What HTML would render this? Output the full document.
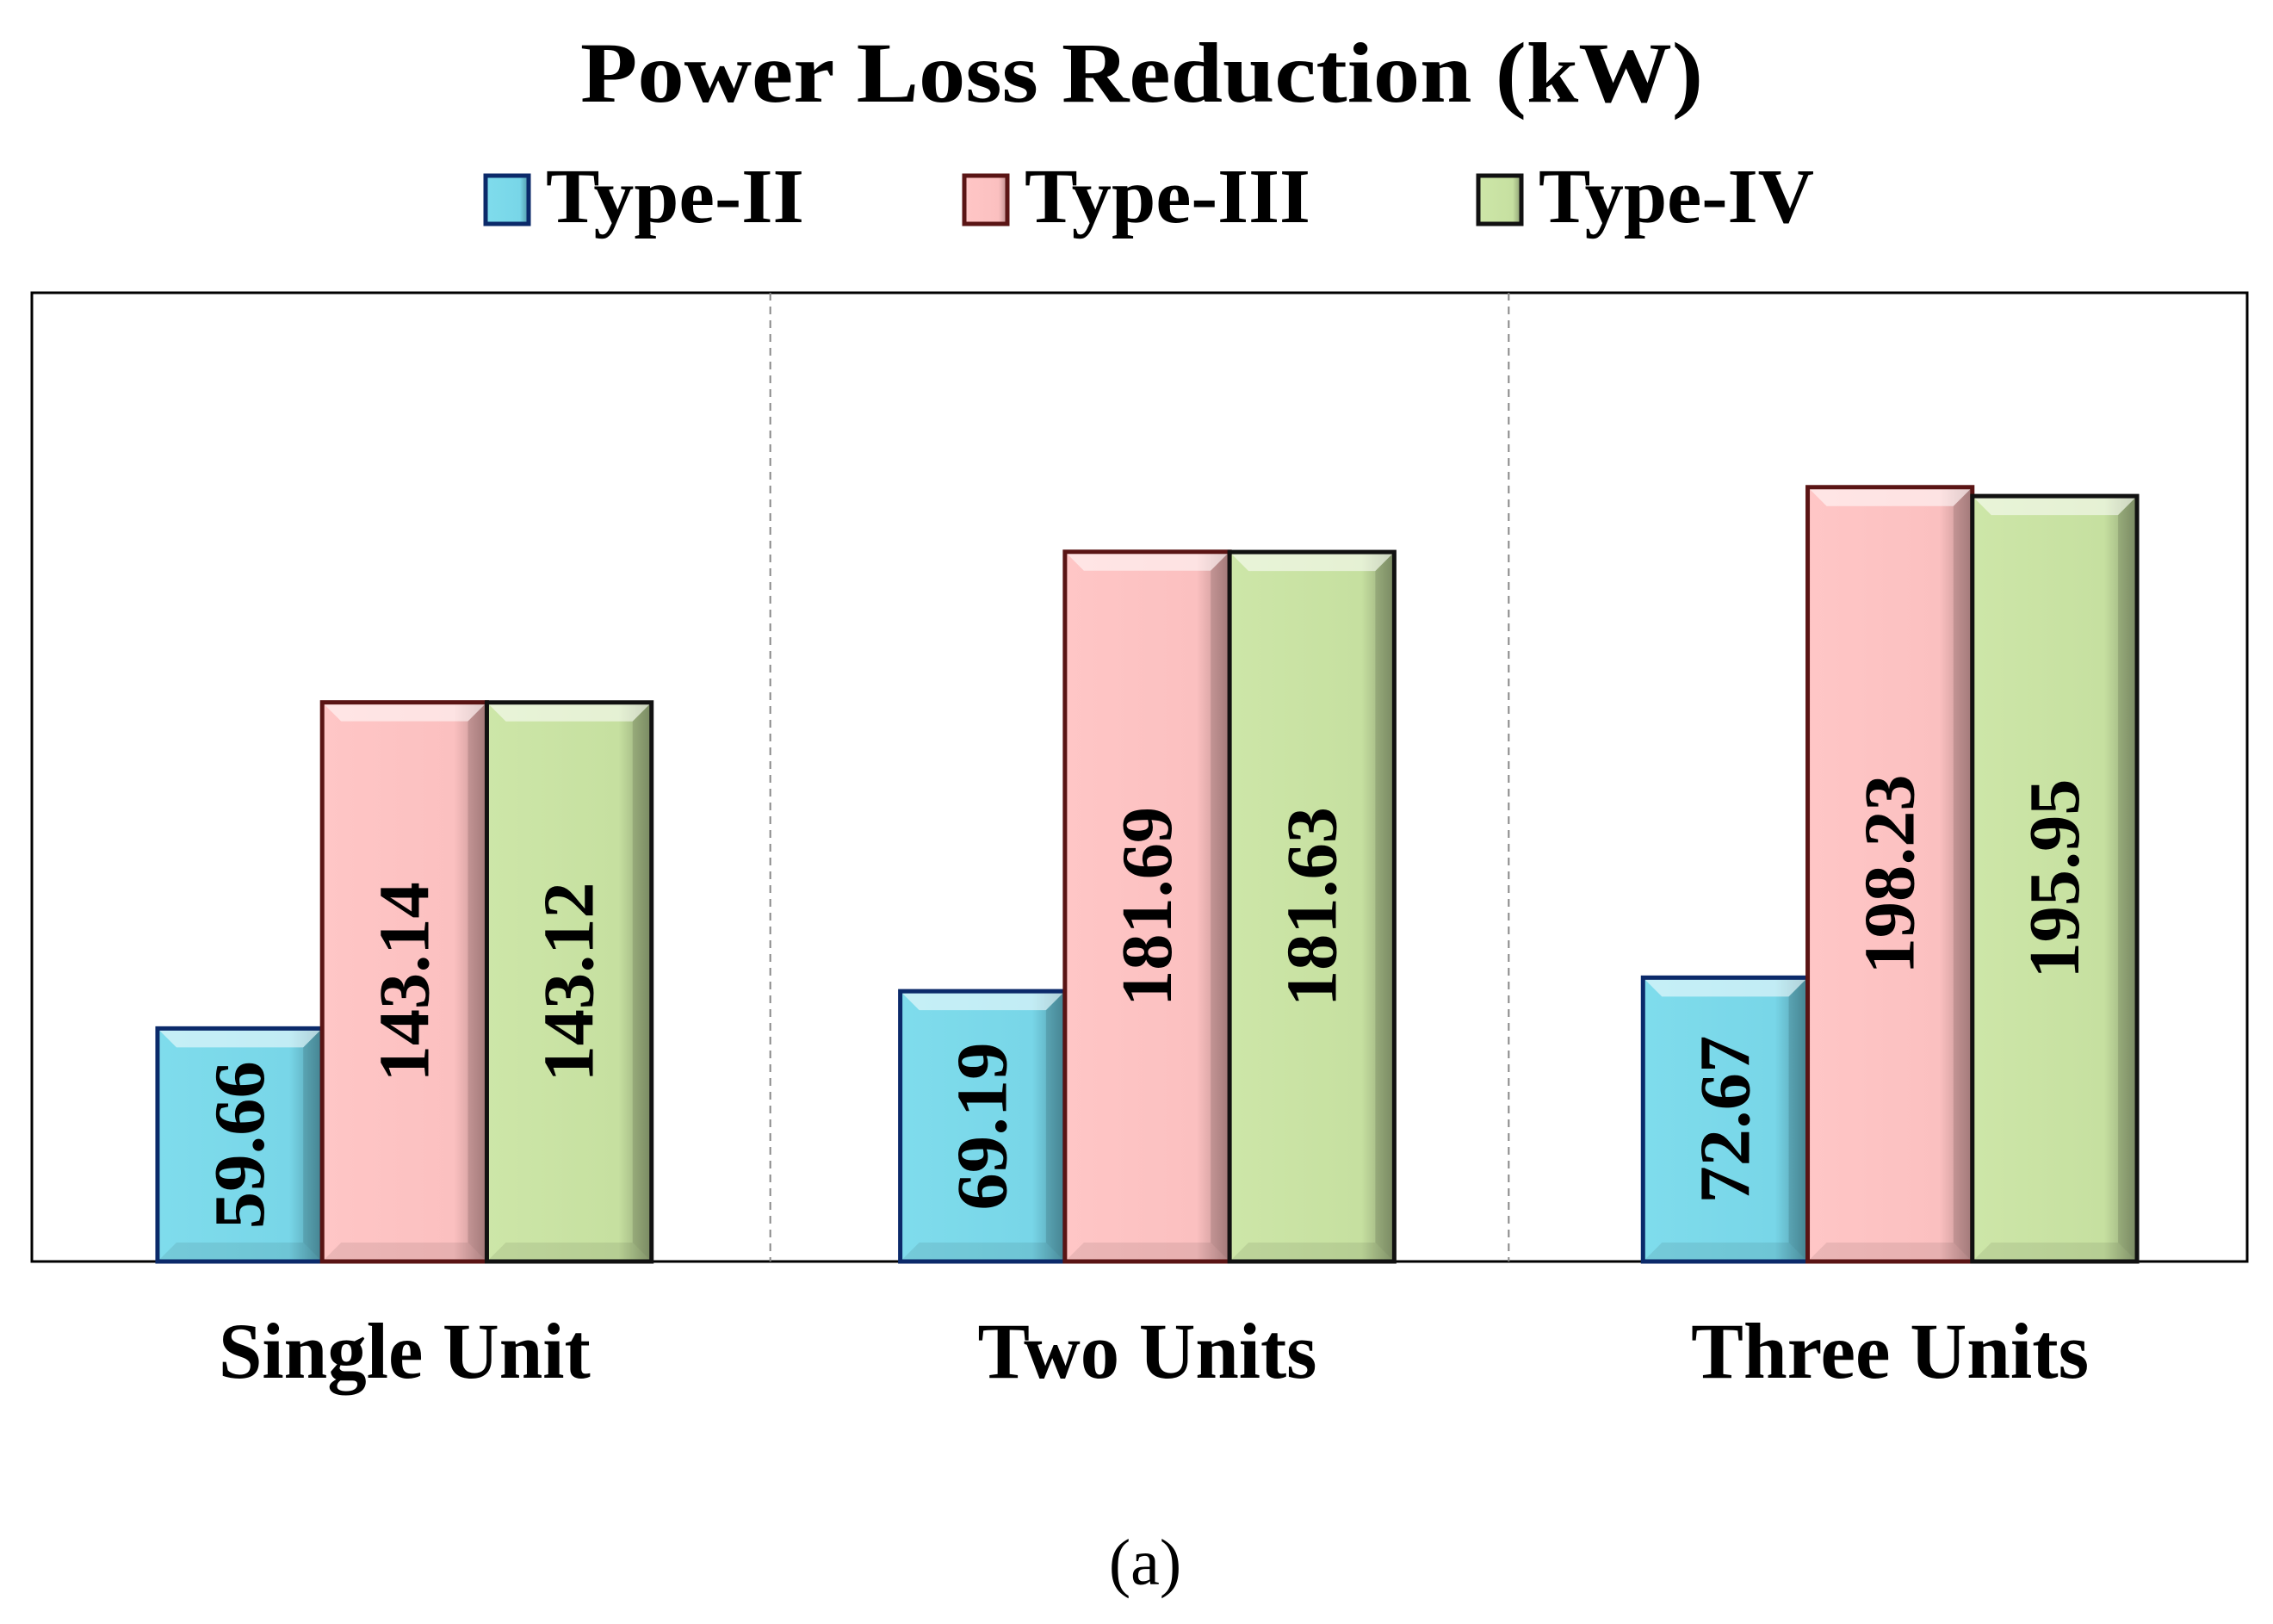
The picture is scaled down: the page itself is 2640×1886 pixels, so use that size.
<!DOCTYPE html>
<html><head><meta charset="utf-8"><style>
html,body{margin:0;padding:0;background:#fff;}
svg{display:block;}
text{font-family:"Liberation Serif",serif;font-weight:bold;fill:#000;}
</style></head><body>
<svg id="chart" width="2640" height="1886" viewBox="0 0 2640 1886">
<defs>
<linearGradient id="gb" x1="0" y1="0" x2="1" y2="0"><stop offset="0" stop-color="#7fdcec"/><stop offset="0.8" stop-color="#78d6e8"/><stop offset="1" stop-color="#4f96a6"/></linearGradient>
<linearGradient id="gp" x1="0" y1="0" x2="1" y2="0"><stop offset="0" stop-color="#ffc6c6"/><stop offset="0.8" stop-color="#fbc0c0"/><stop offset="1" stop-color="#b88a8a"/></linearGradient>
<linearGradient id="gg" x1="0" y1="0" x2="1" y2="0"><stop offset="0" stop-color="#cde6a8"/><stop offset="0.8" stop-color="#c6e0a0"/><stop offset="1" stop-color="#8a9c70"/></linearGradient>
</defs>
<text x="1326" y="118" font-size="100" text-anchor="middle" textLength="1304" lengthAdjust="spacingAndGlyphs">Power Loss Reduction (kW)</text>
<g id="legend"></g>
<rect x="37" y="340" width="2573" height="1125" fill="none" stroke="#000" stroke-width="3"/>
<g id="grid"></g>
<g id="bars"></g>
<g id="xlabels"></g>
<text x="1330" y="1840" font-size="76" style="font-weight:normal" text-anchor="middle">(a)</text>
</svg>
<script>
const categories = ["Single Unit", "Two Units", "Three Units"];
const seriesNames = ["Type-II", "Type-III", "Type-IV"];
const typeII = [59.66, 69.19, 72.67];
const typeIII = [143.14, 181.69, 198.23];
const typeIV = [143.12, 181.63, 195.95];

const NS = "http://www.w3.org/2000/svg";
const plotL = 37, plotR = 2610, plotT = 340, plotB = 1465, yMax = 248;
const catW = (plotR - plotL) / categories.length;
const barW = catW * 0.223;
const fills = ["url(#gb)", "url(#gp)", "url(#gg)"];
const strokes = ["#0b2a6a", "#5a1414", "#111"];
const series = [typeII, typeIII, typeIV];
function yScale(v) { return plotB - (v / yMax) * (plotB - plotT); }
function xBar(ci, si) { return plotL + catW * (ci + 0.5) + 4 + ci * 5 + (si - 1.5) * barW; }
function mk(tag, attrs, parent) { const e = document.createElementNS(NS, tag); for (const k in attrs) e.setAttribute(k, attrs[k]); parent.appendChild(e); return e; }

const grid = document.getElementById("grid");
for (let i = 1; i < categories.length; i++) {
  const x = plotL + catW * i;
  const l = mk("line", {x1: x, x2: x, y1: plotT, y2: plotB, stroke: "#888", "stroke-width": 2, "stroke-dasharray": "9,7"}, grid);
  
  
}

const bars = document.getElementById("bars");
series.forEach((vals, si) => {
  vals.forEach((v, ci) => {
    const x = xBar(ci, si), y = yScale(v), h = plotB - y;
    const g = mk("g", {}, bars);
    
    
    mk("rect", {x: x, y: y, width: barW, height: h, fill: fills[si]}, g);
    const b = 22;
    mk("polygon", {points: `${x},${y} ${x + barW},${y} ${x + barW - b},${y + b} ${x + b},${y + b}`, fill: "#fff", opacity: 0.55}, g);
    mk("polygon", {points: `${x + barW},${y} ${x + barW},${plotB} ${x + barW - b},${plotB - b} ${x + barW - b},${y + b}`, fill: "#000", opacity: 0.12}, g);
    mk("polygon", {points: `${x},${plotB} ${x + barW},${plotB} ${x + barW - b},${plotB - b} ${x + b},${plotB - b}`, fill: "#000", opacity: 0.08}, g);
    mk("rect", {x: x, y: y, width: barW, height: h, fill: "none", stroke: strokes[si], "stroke-width": 5}, g);
    const cx = x + barW / 2, cy = y + h / 2;
    const label = v.toFixed(2);
    const t = mk("text", {x: cx, y: cy, "font-size": 84, "text-anchor": "middle", "dominant-baseline": "central", transform: `rotate(-90 ${cx} ${cy})`, textLength: label.length === 5 ? 195 : 232, lengthAdjust: "spacingAndGlyphs"}, g);
    t.textContent = label;
    
    
  });
});

const xl = document.getElementById("xlabels");
const labelW = [432, 394, 462];
categories.forEach((c, i) => {
  const t = mk("text", {x: plotL + catW * (i + 0.5) + 4 + i * 5, y: 1600, "font-size": 92, "text-anchor": "middle", textLength: labelW[i], lengthAdjust: "spacingAndGlyphs"}, xl);
  t.textContent = c;
  
  
});

const lg = document.getElementById("legend");
const legX = [564, 1120, 1717];
const legTW = [300, 332, 320];
seriesNames.forEach((n, i) => {
  const g = mk("g", {}, lg);
  
  
  mk("rect", {x: legX[i], y: 204, width: 50, height: 56, fill: fills[i], stroke: strokes[i], "stroke-width": 5}, g);
  const t = mk("text", {x: legX[i] + 70, y: 258, "font-size": 90, textLength: legTW[i], lengthAdjust: "spacingAndGlyphs"}, g);
  t.textContent = n;
});
</script>
</body></html>
